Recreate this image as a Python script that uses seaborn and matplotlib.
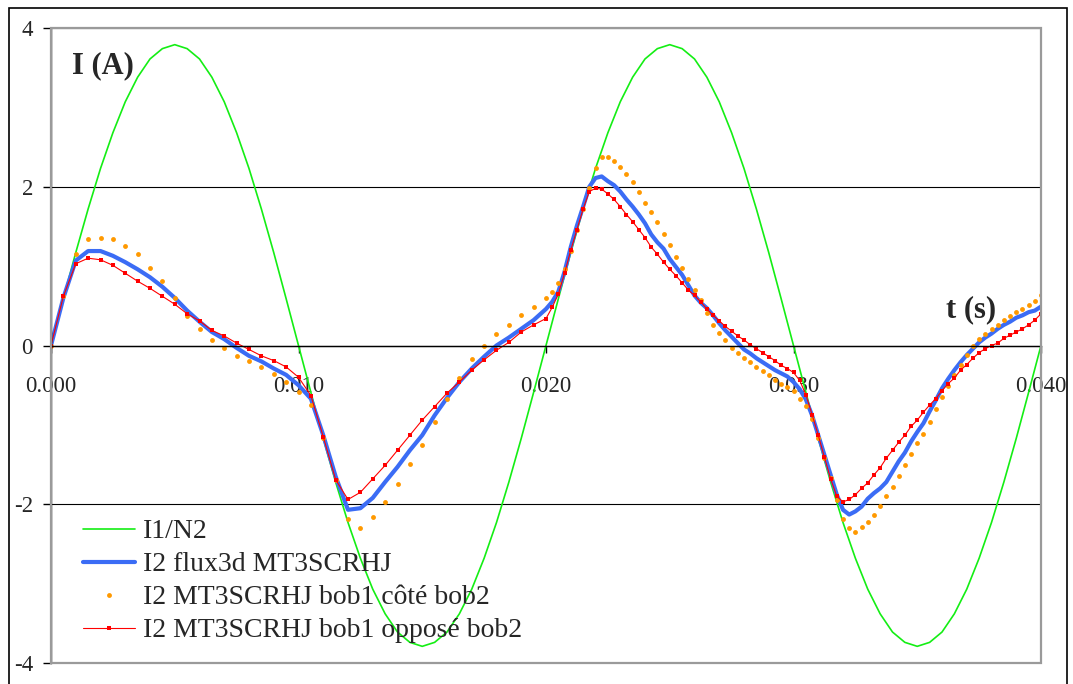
import numpy as np
import pandas as pd
import matplotlib
matplotlib.use("Agg")
import matplotlib.pyplot as plt
from matplotlib.patches import Rectangle
from matplotlib.ticker import FormatStrFormatter
import seaborn as sns

# time grids (s): 0.5 ms steps up to 20 ms, 0.25 ms steps after
t_coarse = np.round(np.arange(0, 0.02001, 0.0005), 5)
t_fine = np.round(np.arange(0.02025, 0.04001, 0.00025), 5)
t_primary = np.round(np.arange(0, 0.04001, 0.0005), 5)

# I1/N2 (primary current brought to secondary)
i1_n2 = [0, 0.59, 1.17, 1.72, 2.23, 2.68, 3.07, 3.38, 3.61, 3.74, 3.79,
         3.74, 3.61, 3.38, 3.07, 2.68, 2.23, 1.72, 1.17, 0.59, 0,
         -0.59, -1.17, -1.72, -2.23, -2.68, -3.07, -3.38, -3.61, -3.74, -3.79,
         -3.74, -3.61, -3.38, -3.07, -2.68, -2.23, -1.72, -1.17, -0.59, 0,
         0.59, 1.17, 1.72, 2.23, 2.68, 3.07, 3.38, 3.61, 3.74, 3.79,
         3.74, 3.61, 3.38, 3.07, 2.68, 2.23, 1.72, 1.17, 0.59, 0,
         -0.59, -1.17, -1.72, -2.23, -2.68, -3.07, -3.38, -3.61, -3.74, -3.79,
         -3.74, -3.61, -3.38, -3.07, -2.68, -2.23, -1.72, -1.17, -0.59, 0]

# I2 flux3d MT3SCRHJ
flux3d_coarse = [0, 0.60, 1.07, 1.19, 1.19, 1.13, 1.05, 0.96, 0.86, 0.74, 0.60,
                 0.44, 0.30, 0.17, 0.08, -0.03, -0.13, -0.20, -0.29, -0.37, -0.50,
                 -0.67, -1.13, -1.65, -2.07, -2.05, -1.92, -1.72, -1.53, -1.32, -1.13,
                 -0.88, -0.66, -0.46, -0.29, -0.14, 0.0, 0.10, 0.21, 0.32, 0.46]
flux3d_fine = [0.55, 0.68, 0.93, 1.24, 1.51, 1.75, 2.00, 2.11, 2.13, 2.07,
               2.02, 1.94, 1.84, 1.75, 1.65, 1.54, 1.40, 1.30, 1.22, 1.09,
               0.99, 0.89, 0.76, 0.63, 0.54, 0.47, 0.38, 0.28, 0.19, 0.11,
               0.03, -0.05, -0.10, -0.16, -0.21, -0.26, -0.31, -0.35, -0.39, -0.46,
               -0.55, -0.68, -0.88, -1.13, -1.38, -1.63, -1.88, -2.07, -2.13, -2.09,
               -2.03, -1.93, -1.86, -1.80, -1.72, -1.59, -1.46, -1.35, -1.21, -1.09,
               -0.98, -0.83, -0.69, -0.54, -0.42, -0.31, -0.21, -0.12, -0.04, 0.04,
               0.10, 0.15, 0.21, 0.26, 0.30, 0.35, 0.38, 0.42, 0.44, 0.49]

# I2 MT3SCRHJ bob1 cote bob2
cote_coarse = [0, 0.62, 1.15, 1.34, 1.36, 1.34, 1.25, 1.15, 0.98, 0.81, 0.60,
               0.37, 0.21, 0.07, -0.03, -0.13, -0.20, -0.27, -0.36, -0.46, -0.58,
               -0.75, -1.16, -1.69, -2.18, -2.30, -2.16, -1.97, -1.75, -1.49, -1.25,
               -0.96, -0.68, -0.41, -0.17, 0.0, 0.14, 0.26, 0.38, 0.48, 0.60]
cote_fine = [0.67, 0.79, 0.96, 1.19, 1.46, 1.72, 1.98, 2.23, 2.37, 2.37,
             2.32, 2.25, 2.16, 2.06, 1.94, 1.80, 1.68, 1.55, 1.41, 1.27,
             1.12, 0.98, 0.84, 0.70, 0.57, 0.41, 0.26, 0.16, 0.07, -0.03,
             -0.10, -0.16, -0.21, -0.27, -0.32, -0.37, -0.43, -0.48, -0.52, -0.57,
             -0.67, -0.76, -0.92, -1.16, -1.42, -1.67, -1.95, -2.18, -2.30, -2.35,
             -2.29, -2.22, -2.13, -2.02, -1.90, -1.78, -1.64, -1.51, -1.37, -1.23,
             -1.11, -0.96, -0.80, -0.65, -0.51, -0.37, -0.25, -0.12, 0.0, 0.08,
             0.15, 0.21, 0.26, 0.32, 0.37, 0.42, 0.46, 0.51, 0.56, 0.63]

# I2 MT3SCRHJ bob1 oppose bob2
oppose_coarse = [0, 0.62, 1.03, 1.10, 1.08, 1.01, 0.91, 0.81, 0.72, 0.62, 0.52,
                 0.40, 0.31, 0.19, 0.12, 0.03, -0.05, -0.13, -0.19, -0.27, -0.40,
                 -0.63, -1.15, -1.69, -1.94, -1.85, -1.68, -1.51, -1.32, -1.13, -0.94,
                 -0.77, -0.60, -0.46, -0.31, -0.18, -0.06, 0.04, 0.17, 0.26, 0.34]
oppose_fine = [0.48, 0.65, 0.91, 1.20, 1.46, 1.72, 1.94, 1.98, 1.97, 1.91,
               1.84, 1.75, 1.65, 1.56, 1.46, 1.36, 1.24, 1.15, 1.05, 0.96,
               0.88, 0.79, 0.70, 0.63, 0.55, 0.46, 0.38, 0.31, 0.24, 0.18,
               0.12, 0.07, 0.01, -0.04, -0.09, -0.14, -0.19, -0.25, -0.29, -0.34,
               -0.44, -0.62, -0.87, -1.13, -1.41, -1.68, -1.90, -1.97, -1.94, -1.88,
               -1.80, -1.73, -1.63, -1.54, -1.42, -1.32, -1.22, -1.13, -1.02, -0.94,
               -0.84, -0.75, -0.67, -0.57, -0.48, -0.41, -0.31, -0.24, -0.16, -0.09,
               -0.04, 0.0, 0.03, 0.09, 0.13, 0.17, 0.21, 0.26, 0.32, 0.40]

labels = ["I1/N2", "I2 flux3d MT3SCRHJ", "I2 MT3SCRHJ bob1 côté bob2",
          "I2 MT3SCRHJ bob1 opposé bob2"]
y_ticks = [-4, -2, 0, 2, 4]
x_ticks = [0.0, 0.01, 0.02, 0.03, 0.04]

t_sec = np.concatenate([t_coarse, t_fine])
df_sec = pd.DataFrame({
    "t": t_sec,
    "flux3d": flux3d_coarse + flux3d_fine,
    "cote": cote_coarse + cote_fine,
    "oppose": oppose_coarse + oppose_fine,
})
df_prim = pd.DataFrame({"t": t_primary, "i1": i1_n2})

sns.set_style("white")
plt.rcParams['font.family'] = ['Liberation Serif', 'DejaVu Serif']

W, H = 1073, 684
fig = plt.figure(figsize=(W / 100, H / 100), dpi=100)
ax = fig.add_axes([51 / W, 1 - 663 / H, 990 / W, 635 / H])

sns.lineplot(data=df_prim, x="t", y="i1", ax=ax, color="#14ee14", lw=1.2,
             label=labels[0], sort=False)
sns.lineplot(data=df_sec, x="t", y="flux3d", ax=ax, color="#3b6cf5", lw=3.0,
             label=labels[1], sort=False)
sns.lineplot(data=df_sec, x="t", y="cote", ax=ax, color="#ff9900", lw=0,
             linestyle="none", marker="o", markersize=3.5, markeredgewidth=0,
             label=labels[2], sort=False)
sns.lineplot(data=df_sec, x="t", y="oppose", ax=ax, color="#ff0000", lw=0.8,
             marker="s", markersize=3.2, markeredgewidth=0,
             label=labels[3], sort=False)

ax.set_xlim(0, 0.04)
ax.set_ylim(-4, 4)
ax.set_xticks(x_ticks)
ax.set_yticks(y_ticks)
ax.xaxis.set_major_formatter(FormatStrFormatter('%.3f'))
ax.yaxis.set_major_formatter(FormatStrFormatter('%d'))

ax.yaxis.grid(True, color="black", lw=0.8)
ax.xaxis.grid(False)
ax.set_axisbelow(True)

ax.spines['bottom'].set_position(('data', 0))
for s in ['left', 'bottom']:
    ax.spines[s].set_color("black")
    ax.spines[s].set_linewidth(1.0)
ax.spines['top'].set_visible(False)
ax.spines['right'].set_visible(False)
ax.add_patch(Rectangle((0, 0), 1, 1, transform=ax.transAxes, fill=False,
                       edgecolor="#9a9a9a", lw=1.6, clip_on=False, zorder=5))

ax.tick_params(axis='y', direction='out', length=6, width=1, color='black',
               pad=7, labelsize=16.5, left=True)
ax.tick_params(axis='x', direction='out', length=5, width=1, color='black',
               pad=17, labelsize=16.5, bottom=True)

ax.set_xlabel("t (s)", fontsize=22, fontweight='bold', va='center', ha='center')
ax.xaxis.set_label_coords(0.929, 0.556)
ax.set_ylabel("I (A)", fontsize=22, fontweight='bold', rotation=0,
              va='center', ha='center')
ax.yaxis.set_label_coords(0.0525, 0.94)

ax.legend(loc='upper left', bbox_to_anchor=(83 / W, 1 - 519 / H),
          bbox_transform=fig.transFigure, frameon=False, fontsize=20,
          borderpad=0, borderaxespad=0, handlelength=1.87, handletextpad=0.29,
          labelspacing=0.27)

fig.patches.append(Rectangle((8.5 / W, -0.02), 1058.5 / W, 1.02 - 7.5 / H,
                             transform=fig.transFigure, fill=False,
                             edgecolor="black", lw=1.2))

fig.savefig("out.png", dpi=100, facecolor="white")
